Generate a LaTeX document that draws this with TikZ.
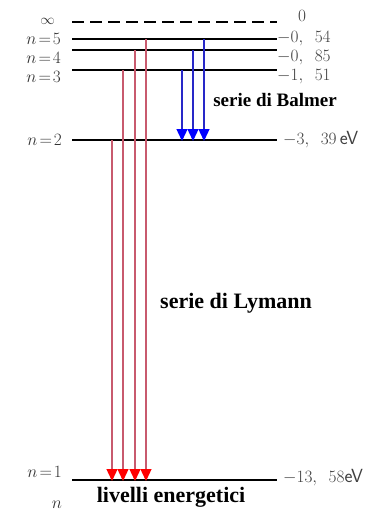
\documentclass[tikz,border=0pt]{standalone}
\usepackage{fontspec}
\newfontfamily\tnr{Liberation Serif}
\usetikzlibrary{arrows.meta}
\begin{document}
\begin{tikzpicture}[x=1pt,y=-1pt,
  level/.style={line width=2pt,black},
  redarr/.style={line width=1.3pt,draw={rgb,255:red,200;green,90;blue,110},-{Triangle[width=11pt,length=12pt,fill=red,color=red]}},
  bluearr/.style={line width=1.3pt,draw={rgb,255:red,40;green,40;blue,200},-{Triangle[width=11pt,length=12pt,fill=blue,color=blue]}},
  nlab/.style={anchor=east,font=\fontsize{19}{19}\selectfont,text=black!80,inner sep=0pt},
  elab/.style={anchor=west,font=\fontsize{19}{19}\selectfont,text=black!75,inner sep=0pt},
  boldlab/.style={font=\tnr\bfseries\fontsize{22}{22}\selectfont,inner sep=0pt}
]
\useasboundingbox (0,0) rectangle (390,517);
% level endpoints
\coordinate (iL) at (72,22);  \coordinate (iR) at (277,22);
\coordinate (L5) at (72,39);  \coordinate (R5) at (277,39);
\coordinate (L4) at (72,50);  \coordinate (R4) at (277,50);
\coordinate (L3) at (72,70);  \coordinate (R3) at (277,70);
\coordinate (L2) at (72,140); \coordinate (R2) at (277,140);
\coordinate (L1) at (72,480); \coordinate (R1) at (277,480);
\draw[level,dashed,dash pattern=on 12pt off 6pt] (iL) -- (iR);
\draw[level] (L5) -- (R5);
\draw[level] (L4) -- (R4);
\draw[level] (L3) -- (R3);
\draw[level] (L2) -- (R2);
\draw[level] (L1) -- (R1);
% Lyman series
\coordinate (ra) at (112,140); \coordinate (rae) at (112,481);
\coordinate (rb) at (123,70);  \coordinate (rbe) at (123,481);
\coordinate (rc) at (135,50);  \coordinate (rce) at (135,481);
\coordinate (rd) at (146,39);  \coordinate (rde) at (146,481);
\draw[redarr] (ra) -- (rae);
\draw[redarr] (rb) -- (rbe);
\draw[redarr] (rc) -- (rce);
\draw[redarr] (rd) -- (rde);
% Balmer series
\coordinate (ba) at (182,70); \coordinate (bae) at (182,141);
\coordinate (bb) at (193,50); \coordinate (bbe) at (193,141);
\coordinate (bc) at (204,39); \coordinate (bce) at (204,141);
\draw[bluearr] (ba) -- (bae);
\draw[bluearr] (bb) -- (bbe);
\draw[bluearr] (bc) -- (bce);
% left labels
\node[nlab,font=\fontsize{15}{15}\selectfont] (linf) at (55,21) {$\infty$};
\node[nlab] (l5) at (61,39) {$n\!=\!5$};
\node[nlab] (l4) at (61,58) {$n\!=\!4$};
\node[nlab] (l3) at (61,77) {$n\!=\!3$};
\node[nlab] (l2) at (62,140) {$n\!=\!2$};
\node[nlab] (l1) at (62,472) {$n\!=\!1$};
\node[nlab,anchor=center] (ln) at (57,505) {$n$};
% right labels
\node[elab] (r0) at (298,16) {$0$};
\node[elab] (r5) at (277,39) {$-0,\ \,54$};
\node[elab] (r4) at (277,58) {$-0,\ \,85$};
\node[elab] (r3) at (277,77) {$-1,\ \,51$};
\node[elab] (r2) at (283,140) {$-3,\ \,39$\,\textsf{eV}};
\node[elab] (r1) at (283,478) {$-13,\ \,58$\textsf{eV}};
% series labels
\node[boldlab,font=\tnr\bfseries\fontsize{19}{19}\selectfont] (balmer) at (275,100) {serie di Balmer};
\node[boldlab] (lyman) at (236,303) {serie di Lymann};
\node[boldlab] (livelli) at (171,497) {livelli energetici};
\end{tikzpicture}
\end{document}
